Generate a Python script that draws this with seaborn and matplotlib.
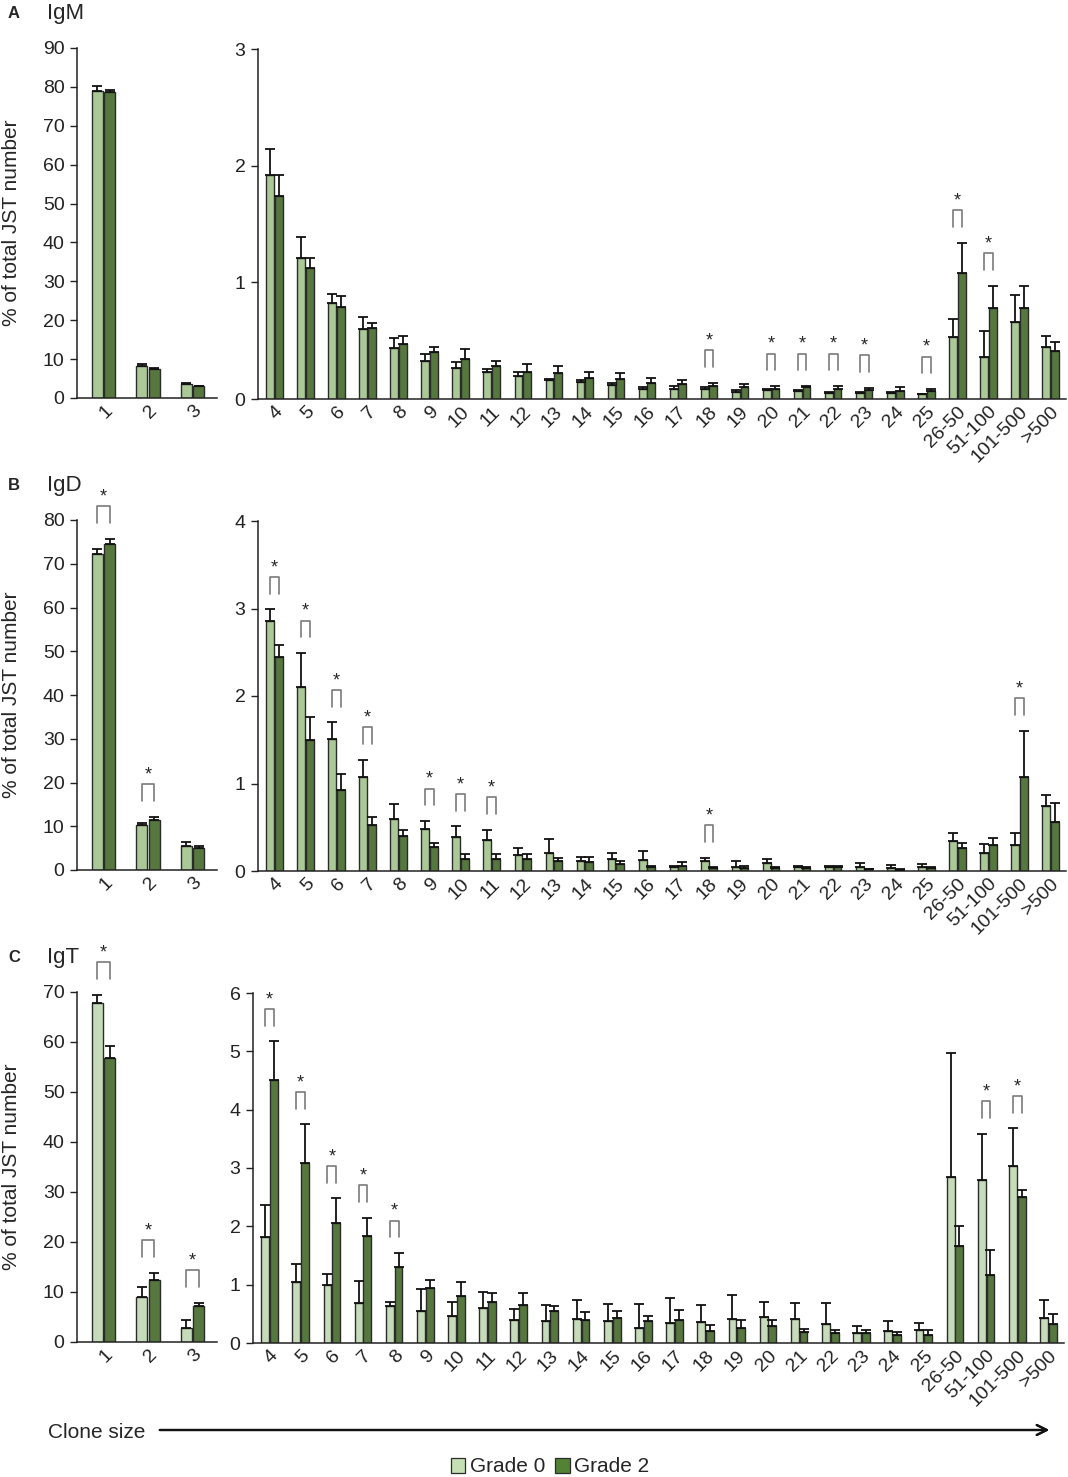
import pandas as pd
import seaborn as sns
import matplotlib.pyplot as plt
from matplotlib.patches import Patch

# --- data ---
sizes_left = ["1", "2", "3"]
sizes_right = [str(i) for i in range(4, 26)] + ["26-50", "51-100", "101-500", ">500"]

# IgM
igm_left_g0 = [79.0, 8.2, 3.5]
igm_left_g0_sem = [1.2, 0.6, 0.3]
igm_left_g2 = [78.8, 7.5, 3.0]
igm_left_g2_sem = [0.3, 0.2, 0.2]
igm_right_g0 = [1.92, 1.21, 0.82, 0.60, 0.44, 0.33, 0.27, 0.23, 0.20, 0.16, 0.15, 0.12, 0.09,
                0.09, 0.09, 0.06, 0.08, 0.07, 0.05, 0.05, 0.05, 0.04, 0.53, 0.36, 0.66, 0.45]
igm_right_g0_sem = [0.22, 0.18, 0.08, 0.10, 0.08, 0.06, 0.05, 0.03, 0.03, 0.015, 0.015, 0.02, 0.015,
                    0.02, 0.01, 0.02, 0.01, 0.01, 0.01, 0.01, 0.01, 0.005, 0.16, 0.22, 0.23, 0.09]
igm_right_g2 = [1.74, 1.12, 0.79, 0.61, 0.47, 0.40, 0.34, 0.28, 0.23, 0.22, 0.18, 0.17, 0.14,
                0.13, 0.11, 0.10, 0.09, 0.10, 0.09, 0.08, 0.07, 0.07, 1.08, 0.78, 0.78, 0.41]
igm_right_g2_sem = [0.18, 0.09, 0.09, 0.04, 0.07, 0.05, 0.09, 0.05, 0.07, 0.06, 0.05, 0.05, 0.04,
                    0.03, 0.03, 0.03, 0.02, 0.01, 0.02, 0.015, 0.03, 0.015, 0.26, 0.19, 0.19, 0.08]
igm_sig_left = []
igm_sig_right = ["18", "20", "21", "22", "23", "25", "26-50", "51-100"]

# IgD
igd_left_g0 = [72.2, 10.2, 5.5]
igd_left_g0_sem = [1.2, 0.5, 0.8]
igd_left_g2 = [74.5, 11.4, 4.95]
igd_left_g2_sem = [1.2, 0.8, 0.55]
igd_right_g0 = [2.86, 2.10, 1.51, 1.08, 0.60, 0.48, 0.39, 0.35, 0.18, 0.21, 0.11, 0.14, 0.13,
                0.05, 0.12, 0.05, 0.09, 0.05, 0.05, 0.05, 0.03, 0.05, 0.34, 0.21, 0.30, 0.74]
igd_right_g0_sem = [0.13, 0.39, 0.19, 0.19, 0.17, 0.09, 0.12, 0.12, 0.08, 0.16, 0.05, 0.07, 0.10,
                    0.01, 0.03, 0.06, 0.05, 0.01, 0.01, 0.04, 0.035, 0.03, 0.10, 0.10, 0.13, 0.13]
igd_right_g2 = [2.45, 1.50, 0.93, 0.53, 0.40, 0.27, 0.14, 0.14, 0.14, 0.11, 0.10, 0.08, 0.05,
                0.06, 0.04, 0.04, 0.04, 0.04, 0.05, 0.02, 0.015, 0.03, 0.26, 0.30, 1.07, 0.56]
igd_right_g2_sem = [0.13, 0.26, 0.18, 0.09, 0.07, 0.05, 0.05, 0.06, 0.06, 0.035, 0.06, 0.035, 0.005,
                    0.04, 0.005, 0.02, 0.01, 0.005, 0.005, 0.005, 0.005, 0.02, 0.06, 0.08, 0.53, 0.22]
igd_sig_left = ["1", "2"]
igd_sig_right = ["4", "5", "6", "7", "9", "10", "11", "18", "101-500"]

# IgT
igt_left_g0 = [67.8, 9.0, 2.9]
igt_left_g0_sem = [1.7, 2.1, 1.5]
igt_left_g2 = [56.8, 12.4, 7.3]
igt_left_g2_sem = [2.4, 1.5, 0.6]
igt_right_g0 = [1.81, 1.05, 1.00, 0.69, 0.63, 0.55, 0.46, 0.60, 0.39, 0.37, 0.41, 0.38, 0.25,
                0.34, 0.36, 0.42, 0.45, 0.42, 0.33, 0.17, 0.20, 0.22, 2.85, 2.79, 3.03, 0.43]
igt_right_g0_sem = [0.55, 0.31, 0.19, 0.38, 0.07, 0.38, 0.24, 0.28, 0.19, 0.28, 0.33, 0.29, 0.42,
                    0.43, 0.30, 0.40, 0.25, 0.27, 0.35, 0.13, 0.18, 0.12, 2.12, 0.80, 0.65, 0.31]
igt_right_g2 = [4.51, 3.08, 2.05, 1.84, 1.31, 0.95, 0.81, 0.71, 0.65, 0.55, 0.39, 0.43, 0.38,
                0.39, 0.21, 0.25, 0.30, 0.19, 0.17, 0.17, 0.13, 0.14, 1.67, 1.17, 2.51, 0.33]
igt_right_g2_sem = [0.66, 0.67, 0.43, 0.31, 0.23, 0.13, 0.24, 0.14, 0.20, 0.09, 0.14, 0.12, 0.09,
                    0.17, 0.10, 0.15, 0.09, 0.05, 0.05, 0.05, 0.06, 0.09, 0.34, 0.43, 0.12, 0.16]
igt_sig_left = ["1", "2", "3"]
igt_sig_right = ["4", "5", "6", "7", "8", "51-100", "101-500"]

grades = ["Grade 0", "Grade 2"]

# --- style ---
sns.set_theme(style="white")
plt.rcParams["font.family"] = ["Liberation Sans", "DejaVu Sans"]

LIGHT = "#a9d18e"
LIGHT_C = "#c5e0b4"
DARK = "#548235"
EDGE = "#2b2b2b"

W, H = 1068, 1477


def rect(x0, x1, ytop, ybot):
    return [x0 / W, 1 - ybot / H, (x1 - x0) / W, (ybot - ytop) / H]


def draw(ax, sizes, g0, g0_sem, g2, g2_sem, sig, ymax, light, xlim):
    df = pd.DataFrame({
        "size": sizes * 2,
        "grade": [grades[0]] * len(sizes) + [grades[1]] * len(sizes),
        "pct": g0 + g2,
    })
    sns.barplot(data=df, x="size", y="pct", hue="grade", order=sizes, hue_order=grades,
                palette=[light, DARK], width=0.56, gap=0.1, errorbar=None,
                edgecolor=EDGE, linewidth=1.0, ax=ax, legend=False)

    centers = []
    for cont, vals, sems in zip(ax.containers, [g0, g2], [g0_sem, g2_sem]):
        xs = [b.get_x() + b.get_width() / 2 for b in cont]
        centers.append(xs)
        ax.errorbar(xs, vals, yerr=[[0] * len(vals), sems], fmt="none", ecolor="#111111",
                    elinewidth=1.3, capsize=3.5, capthick=1.3, zorder=3)

    # significance brackets
    for s in sig:
        i = sizes.index(s)
        x0, x1 = centers[0][i], centers[1][i]
        base = max(g0[i] + g0_sem[i], g2[i] + g2_sem[i]) + 0.045 * ymax
        top = base + 0.048 * ymax
        ax.plot([x0, x0, x1, x1], [base, top, top, base], color="#7a7a7a", lw=1.2, clip_on=False)
        ax.text((x0 + x1) / 2, top + 0.002 * ymax, "*", ha="center", va="bottom", fontsize=13)

    ax.set_ylim(0, ymax)
    ax.set_xlim(*xlim)
    ax.set_xlabel("")
    ax.set_ylabel("")
    ax.set_yticks(range(0, ymax + 1, 10 if ymax > 10 else 1))
    ax.tick_params(axis="y", direction="out", length=5, width=1, colors="#222222",
                   labelsize=14, left=True, pad=4)
    ax.tick_params(axis="x", length=0, labelsize=14, pad=3, labelcolor="#222222")
    plt.setp(ax.get_xticklabels(), rotation=45, ha="right", rotation_mode="anchor")
    sns.despine(ax=ax)
    for sp in ["left", "bottom"]:
        ax.spines[sp].set_color("#222222")
        ax.spines[sp].set_linewidth(1.1)


fig = plt.figure(figsize=(W / 100, H / 100), dpi=100)

panels = [
    ("A", "IgM", 48, 398, 258, 1066, 90, 3, LIGHT,
     (igm_left_g0, igm_left_g0_sem, igm_left_g2, igm_left_g2_sem, igm_sig_left),
     (igm_right_g0, igm_right_g0_sem, igm_right_g2, igm_right_g2_sem, igm_sig_right)),
    ("B", "IgD", 520, 870, 258, 1066, 80, 4, LIGHT,
     (igd_left_g0, igd_left_g0_sem, igd_left_g2, igd_left_g2_sem, igd_sig_left),
     (igd_right_g0, igd_right_g0_sem, igd_right_g2, igd_right_g2_sem, igd_sig_right)),
    ("C", "IgT", 992, 1342, 253, 1064, 70, 6, LIGHT_C,
     (igt_left_g0, igt_left_g0_sem, igt_left_g2, igt_left_g2_sem, igt_sig_left),
     (igt_right_g0, igt_right_g0_sem, igt_right_g2, igt_right_g2_sem, igt_sig_right)),
]

for letter, title, ytop, ybot, rx0, rx1, lmax, rmax, light, left, right in panels:
    ax_l = fig.add_axes(rect(77, 217, ytop, ybot))
    draw(ax_l, sizes_left, *left[:4], left[4], lmax, light, (-0.6, 2.55))
    ax_r = fig.add_axes(rect(rx0, rx1, ytop + 1, ybot + 1))
    draw(ax_r, sizes_right, *right[:4], right[4], rmax, light, (-0.53, 25.5))

    ty = 1 - (ytop - 35) / H
    fig.text(8 / W, ty, letter, fontsize=12, fontweight="bold", va="center")
    fig.text(47 / W, ty, title, fontsize=16, va="center")
    fig.text(12 / W, 1 - ((ytop + ybot) / 2) / H, "% of total JST number", fontsize=15,
             rotation=90, ha="center", va="center")

# clone size arrow
fig.text(48 / W, 1 - 1432 / H, "Clone size", fontsize=15, va="center")
fig.add_artist(plt.annotate("", xy=(1052 / W, 1 - 1430 / H), xytext=(157 / W, 1 - 1430 / H),
                            xycoords="figure fraction", textcoords="figure fraction",
                            arrowprops=dict(arrowstyle="->", lw=1.6, color="#111111",
                                            mutation_scale=18)))

handles = [Patch(facecolor=LIGHT_C, edgecolor=EDGE, lw=0.9), Patch(facecolor=DARK, edgecolor=EDGE, lw=0.9)]
fig.legend(handles, grades, loc="center", bbox_to_anchor=(0.515, 1 - 1467 / H), ncol=2,
           frameon=False, handlelength=0.7, handleheight=0.7, handletextpad=0.2,
           columnspacing=0.5, prop={"size": 15})

fig.savefig("out.png", dpi=100)
